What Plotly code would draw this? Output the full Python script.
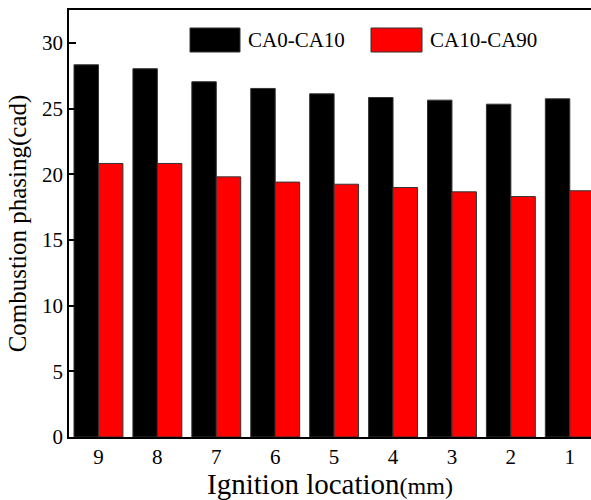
import plotly.graph_objects as go

locations = ["9", "8", "7", "6", "5", "4", "3", "2", "1"]
ca0_ca10 = [28.33, 28.03, 27.04, 26.53, 26.12, 25.84, 25.64, 25.33, 25.74]
ca10_ca90 = [20.82, 20.82, 19.80, 19.40, 19.24, 18.99, 18.66, 18.30, 18.74]
series_names = ["CA0-CA10", "CA10-CA90"]
y_ticks = [0, 5, 10, 15, 20, 25, 30]

FONT = "Liberation Serif"
colors = ["#000000", "#ff0000"]

fig = go.Figure()
for name, vals, c in zip(series_names, [ca0_ca10, ca10_ca90], colors):
    fig.add_trace(go.Bar(x=locations, y=vals, name=name,
                         marker=dict(color=c, line=dict(color="#333333", width=1)),
                         showlegend=False))

W, H = 591, 500
L, R, T, B = 69, 0, 10, 63
pw, ph = W - L - R, H - T - B

def px(x):
    return (x - L) / pw

def py(y):
    return (H - B - y) / ph

# manual legend (large swatches)
legend_items = [(190, 240, 246), (371, 422, 428)]
for (x0, x1, tx), name, c in zip(legend_items, series_names, colors):
    fig.add_shape(type="rect", xref="paper", yref="paper",
                  x0=px(x0), x1=px(x1), y0=py(52), y1=py(28),
                  fillcolor=c, line=dict(color="#333333", width=1))
    fig.add_annotation(xref="paper", yref="paper", x=px(tx), y=py(40),
                       text=name, showarrow=False, xanchor="left", yanchor="middle",
                       font=dict(family=FONT, size=21, color="#000"))

fig.update_layout(
    width=W, height=H,
    margin=dict(l=L, r=R, t=T, b=B, autoexpand=False),
    barmode="group", bargap=0.17, bargroupgap=0,
    plot_bgcolor="white", paper_bgcolor="white",
    font=dict(family=FONT, color="#000"),
    xaxis=dict(type="category", range=[-0.5, 8.36],
               showline=True, linecolor="black", linewidth=1.5, mirror=True,
               ticks="", tickfont=dict(size=21, family=FONT),
               title=dict(text="Ignition location<span style='font-size:24px'>(mm)</span>",
                          font=dict(size=29, family=FONT), standoff=1),
               showgrid=False),
    yaxis=dict(range=[0, 32.5], tickvals=y_ticks,
               showline=True, linecolor="black", linewidth=1.5, mirror=False,
               ticks="inside", ticklen=7, tickwidth=1.5, tickcolor="black",
               tickfont=dict(size=21, family=FONT),
               title=dict(text="Combustion phasing(cad)", font=dict(size=25, family=FONT), standoff=8),
               showgrid=False, zeroline=False),
)

fig.write_html("out.html", config={"displayModeBar": False},
               post_script="document.body.style.margin='0';document.body.style.overflow='hidden';")
